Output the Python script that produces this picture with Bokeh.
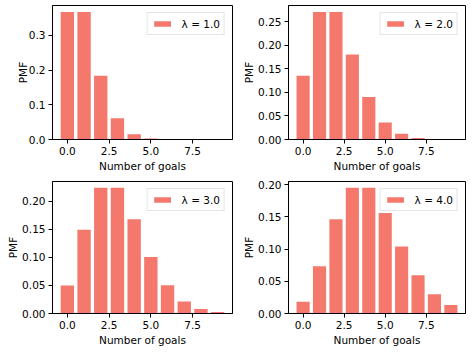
from bokeh.plotting import figure
from bokeh.layouts import column, row
from bokeh.models import FixedTicker, PrintfTickFormatter, Range1d, ColumnDataSource, Legend, LegendItem
from bokeh.embed import file_html
from bokeh.resources import INLINE

goals = [0, 1, 2, 3, 4, 5, 6, 7, 8, 9]
lambdas = [1.0, 2.0, 3.0, 4.0]
pmf_l1 = [0.3679, 0.3679, 0.1839, 0.0613, 0.0153, 0.0031, 0.0005, 0.0001, 0.0000, 0.0000]
pmf_l2 = [0.1353, 0.2707, 0.2707, 0.1804, 0.0902, 0.0361, 0.0120, 0.0034, 0.0009, 0.0002]
pmf_l3 = [0.0498, 0.1494, 0.2240, 0.2240, 0.1680, 0.1008, 0.0504, 0.0216, 0.0081, 0.0027]
pmf_l4 = [0.0183, 0.0733, 0.1465, 0.1954, 0.1954, 0.1563, 0.1042, 0.0595, 0.0298, 0.0132]
x_ticks = [0, 2.5, 5.0, 7.5]
y_ticks_l1 = [0.0, 0.1, 0.2, 0.3]
y_ticks_l2 = [0.0, 0.05, 0.10, 0.15, 0.20, 0.25]
y_ticks_l3 = [0.0, 0.05, 0.10, 0.15, 0.20]
y_ticks_l4 = [0.0, 0.05, 0.10, 0.15, 0.20]

BAR_COLOR = "#F4796C"
FONT = "DejaVu Sans"
FS = "10.5px"


def make_panel(vals, lam, yticks, yfmt, right_border, top_border, bottom_border, ylab_standoff):
    bar_w = 0.8
    span = (goals[-1] + bar_w / 2) - (goals[0] - bar_w / 2)
    x0 = goals[0] - bar_w / 2 - 0.05 * span
    x1 = goals[-1] + bar_w / 2 + 0.05 * span
    p = figure(width=236, height=176, output_backend="svg", toolbar_location=None,
               x_range=Range1d(x0, x1), y_range=Range1d(0, max(vals) * 1.05),
               min_border_left=52, min_border_right=right_border,
               min_border_top=top_border, min_border_bottom=bottom_border)
    src = ColumnDataSource(dict(x=goals, y=vals))
    r = p.vbar(x="x", top="y", width=bar_w, source=src, fill_color=BAR_COLOR, line_color=None)
    p.xgrid.visible = False
    p.ygrid.visible = False
    p.outline_line_color = "black"
    p.outline_line_width = 1
    p.xaxis.ticker = FixedTicker(ticks=x_ticks)
    p.xaxis.formatter = PrintfTickFormatter(format="%.1f")
    p.yaxis.ticker = FixedTicker(ticks=yticks)
    p.yaxis.formatter = PrintfTickFormatter(format=yfmt)
    for ax in (p.xaxis[0], p.yaxis[0]):
        ax.major_tick_out = 4
        ax.major_tick_in = 0
        ax.minor_tick_out = 0
        ax.minor_tick_in = 0
        ax.axis_line_color = "black"
        ax.major_tick_line_color = "black"
        ax.major_label_text_font = FONT
        ax.major_label_text_font_size = FS
        ax.major_label_text_color = "black"
        ax.axis_label_text_font = FONT
        ax.axis_label_text_font_size = FS
        ax.axis_label_text_font_style = "normal"
        ax.axis_label_text_color = "black"
        ax.major_label_standoff = 3
    p.xaxis.axis_label_standoff = 2
    p.yaxis.axis_label_standoff = ylab_standoff
    p.xaxis.axis_label = "Number of goals"
    p.yaxis.axis_label = "PMF"
    legend = Legend(items=[LegendItem(label="λ = %.1f" % lam, renderers=[r])],
                    location="top_right", margin=7, padding=4,
                    glyph_width=21, glyph_height=7, label_height=13,
                    label_standoff=9,
                    label_text_font=FONT, label_text_font_size=FS,
                    label_text_color="black",
                    border_line_color="#cccccc", border_line_width=1,
                    background_fill_color="white", background_fill_alpha=0.8)
    p.add_layout(legend, "center")
    return p


p1 = make_panel(pmf_l1, lambdas[0], y_ticks_l1, "%.1f", 4, 5, 37, -3)
p2 = make_panel(pmf_l2, lambdas[1], y_ticks_l2, "%.2f", 7, 5, 37, 0)
p3 = make_panel(pmf_l3, lambdas[2], y_ticks_l3, "%.2f", 4, 5, 39, 0)
p4 = make_panel(pmf_l4, lambdas[3], y_ticks_l4, "%.2f", 7, 5, 39, 0)

layout = column(row(p1, p2), row(p3, p4))
open("out.html", "w").write(file_html(layout, INLINE))
